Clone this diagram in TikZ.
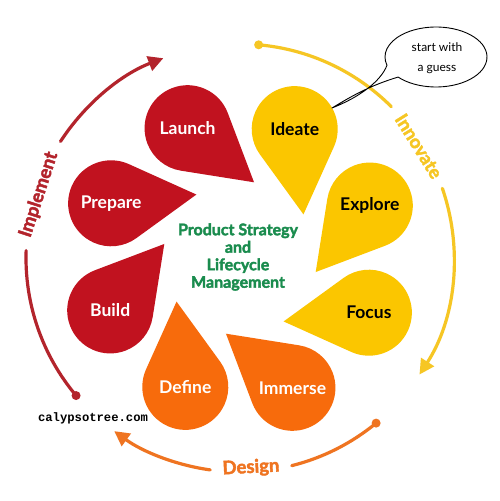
\documentclass[tikz,border=0pt]{standalone}
\usepackage{fontspec}
\setmainfont{Lato}
\newfontface\heavyfont{Lato Bold}[FakeBold=2.2]
\newfontfamily\wmfont{Liberation Mono}
\usetikzlibrary{calc,arrows.meta}
\definecolor{pred}{HTML}{C1121F}
\definecolor{pyel}{HTML}{FBC600}
\definecolor{porg}{HTML}{F76B0C}
\definecolor{ared}{HTML}{B3242C}
\definecolor{ayel}{HTML}{F6C624}
\definecolor{aorg}{HTML}{EF7421}
\definecolor{cgreen}{HTML}{1A8C4E}
\tikzset{
  petaltext/.style={font=\bfseries\fontsize{17.5}{19}\selectfont},
  arcline/.style={line width=3.2pt, line cap=round},
  arctext/.style={font=\heavyfont\fontsize{18.5}{21}\selectfont},
  arrowtip/.style={-{Triangle[length=15pt,width=15pt]}},
  bubbletext/.style={font=\fontsize{12}{20}\selectfont, align=center}
}
\newcommand\drawpetal[5]{%
  \pgfmathsetmacro\pdx{77*cos(#1-32.5)-140*cos(#1)}%
  \pgfmathsetmacro\pdy{77*sin(#1-32.5)-140*sin(#1)}%
  \pgfmathsetmacro\pph{atan2(\pdy,\pdx)}%
  \pgfmathsetmacro\pal{acos(43/veclen(\pdx,\pdy))}%
  \pgfmathsetmacro\pst{\pph+\pal}%
  \pgfmathsetmacro\pen{\pph-\pal+360}%
  \coordinate (#5c) at ($(O)+(#1:140)$);
  \coordinate (#5t) at ($(O)+(#1-32.5:77)$);
  \fill[#2] (#5t) -- ($(#5c)+(\pst:43)$) arc[start angle=\pst, end angle=\pen, radius=43] -- cycle;
  \node[petaltext, text=#3] (#5) at (#5c) {#4};
}
\begin{document}
\begin{tikzpicture}[x=1pt,y=1pt]
\useasboundingbox (0,0) rectangle (500,501);
\fill[white] (0,0) rectangle (500,501);
\coordinate (O) at (240,243);

% petals
\drawpetal{112}{pred}{white}{Launch}{launch}
\drawpetal{67}{pyel}{black}{Ideate}{ideate}
\drawpetal{22}{pyel}{black}{Explore}{explore}
\drawpetal{-23}{pyel}{black}{Focus}{focus}
\drawpetal{-68}{porg}{white}{Immerse}{immerse}
\drawpetal{-113}{porg}{white}{Define}{define}
\drawpetal{-158}{pred}{white}{Build}{build}
\drawpetal{157}{pred}{white}{Prepare}{prepare}

% centre title
\node[font=\heavyfont\fontsize{16}{17.5}\selectfont, text=cgreen, align=center, inner sep=0pt] (title) at (238,244)
  {Product Strategy\\and\\Lifecycle\\Management};

% outer arcs
\coordinate (rs) at ($(O)+(220:214)$);
\coordinate (rg2) at ($(O)+(147:214)$);
\fill[ared] (rs) circle (4.5);
\draw[arcline, ared] (rs) arc[start angle=220, end angle=178, radius=214];
\draw[arcline, ared, arrowtip] (rg2) arc[start angle=147, end angle=111, radius=214];
\node[arctext, text=ared, rotate=72, inner sep=0pt] (implement) at ($(O)+(162.5:211)$) {Implement};

\coordinate (ys) at ($(O)+(85:214)$);
\coordinate (yg2) at ($(O)+(19:214)$);
\fill[ayel] (ys) circle (4.5);
\draw[arcline, ayel] (ys) arc[start angle=85, end angle=45, radius=214];
\draw[arcline, ayel, arrowtip] (yg2) arc[start angle=19, end angle=-33, radius=214];
\node[arctext, text=ayel, rotate=-58, inner sep=0pt] (innovate) at ($(O)+(32:211)$) {Innovate};

\coordinate (os) at ($(O)+(-50.5:214)$);
\coordinate (og2) at ($(O)+(-98:214)$);
\fill[aorg] (os) circle (4.5);
\draw[arcline, aorg] (os) arc[start angle=-50.5, end angle=-76, radius=214];
\draw[arcline, aorg, arrowtip] (og2) arc[start angle=-98, end angle=-126, radius=214];
\node[arctext, text=aorg, rotate=3, inner sep=0pt] (design) at ($(O)+(-87:210)$) {Design};

% watermark
\node[font=\wmfont\bfseries\fontsize{12.2}{14}\selectfont] (wm) at (93,83) {calypsotree.com};

% speech bubble
\coordinate (bc) at (436,444);
\coordinate (btip) at (332,393);
\coordinate (bp1) at ($(bc)+(196:51 and 30)$);
\coordinate (bp2) at ($(bc)+(222:51 and 30)$);
\draw[black, line width=0.9pt, line join=round]
  (bp2) arc[start angle=222, end angle=556, x radius=51, y radius=30]
  .. controls (381,420) and (360,404) .. (btip)
  .. controls (355,407) and (372,416) .. (bp2);
\node[bubbletext] (bubble) at (437,443) {start with\\a guess};
\end{tikzpicture}
\end{document}
